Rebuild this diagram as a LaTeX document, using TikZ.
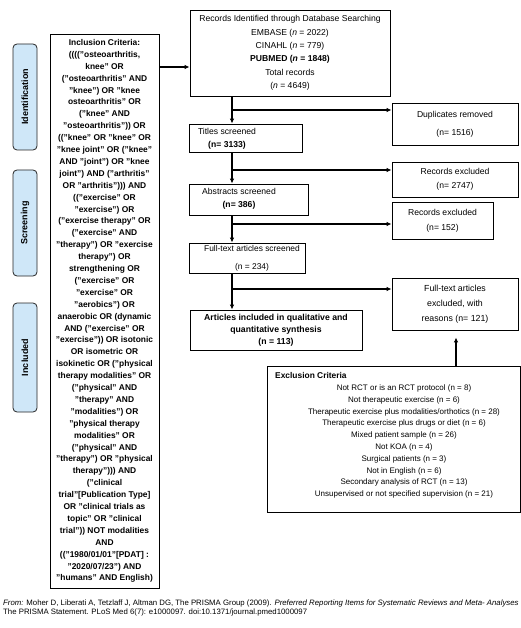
\documentclass[tikz,border=0pt]{standalone}
\usepackage{fontspec}
\setmainfont{Liberation Sans}
\usetikzlibrary{arrows.meta,calc}
\definecolor{sideblue}{RGB}{207,231,248}
\newcommand\fsz[2]{\fontsize{#1pt}{#2pt}\selectfont}
\begin{document}
\begin{tikzpicture}[x=1pt,y=-1pt,
  bx/.style={draw=black, line width=0.8pt, inner sep=0pt, align=center},
  side/.style={draw=black!85, line width=0.8pt, rounded corners=4pt, fill=sideblue, inner sep=0pt, rotate=90, font=\bfseries\fsz{9}{10}},
  txt/.style={inner sep=0pt, align=center},
  conn/.style={line width=1.5pt},
  arr/.style={conn, -{Latex[length=5pt,width=4.5pt]}},
]
\useasboundingbox (0,0) rectangle (521,628);
\fill[white] (0,0) rectangle (521,628);

% side labels
\node[side, minimum width=106pt, minimum height=24pt] (sid) at (25,97) {Identification};
\node[side, minimum width=106pt, minimum height=24pt] (sscr) at (25,223) {Screening};
\node[side, minimum width=109pt, minimum height=24pt] (sinc) at (25,357.5) {Included};

% inclusion criteria
\node[bx, minimum width=109pt, minimum height=554pt, font=\bfseries\fsz{8.4}{11.9}] (inc) at (104.5,311) {Inclusion Criteria:\\
(((("osteoarthritis,\\
knee" OR\\
("osteoarthritis" AND\\
"knee") OR "knee\\
osteoarthritis" OR\\
("knee" AND\\
"osteoarthritis")) OR\\
(("knee" OR "knee" OR\\
"knee joint" OR ("knee"\\
AND "joint") OR "knee\\
joint") AND ("arthritis"\\
OR "arthritis"))) AND\\
(("exercise" OR\\
"exercise") OR\\
("exercise therapy" OR\\
("exercise" AND\\
"therapy") OR "exercise\\
therapy") OR\\
strengthening OR\\
("exercise" OR\\
"exercise" OR\\
"aerobics") OR\\
anaerobic OR (dynamic\\
AND ("exercise" OR\\
"exercise")) OR isotonic\\
OR isometric OR\\
isokinetic OR ("physical\\
therapy modalities" OR\\
("physical" AND\\
"therapy" AND\\
"modalities") OR\\
"physical therapy\\
modalities" OR\\
("physical" AND\\
"therapy") OR "physical\\
therapy"))) AND\\
("clinical\\
trial"[Publication Type]\\
OR "clinical trials as\\
topic" OR "clinical\\
trial")) NOT modalities\\
AND\\
(("1980/01/01"[PDAT] :\\
"2020/07/23") AND\\
"humans" AND English)};

% flow boxes
\node[bx, minimum width=200pt, minimum height=86pt, font=\fsz{8.6}{13.4}] (rec) at (290,53) {Records Identified through Database Searching\\
EMBASE (\textit{n} = 2022)\\
CINAHL (\textit{n} = 779)\\
\textbf{PUBMED (\textit{n} = 1848)}\\
Total records\\
(\textit{n} = 4649)};

\node[bx, minimum width=126pt, minimum height=42pt, font=\fsz{8.6}{18}] (dup) at (455,124) {Duplicates removed\\(n= 1516)};

\node[bx, minimum width=113pt, minimum height=28pt] (tit) at (245.5,138) {};
\node[txt, font=\fsz{8.6}{13}] (titt) at (227,138.5) {Titles screened\\\textbf{(n= 3133)}};

\node[bx, minimum width=126pt, minimum height=35pt, font=\fsz{8.6}{14}] (rex1) at (455,179.5) {Records excluded\\(n= 2747)};

\node[bx, minimum width=119pt, minimum height=31pt] (abs) at (248.5,199.5) {};
\node[txt, font=\fsz{8.6}{13}] (abst) at (239,198.5) {Abstracts screened\\\textbf{(n= 386)}};

\node[bx, minimum width=101pt, minimum height=37pt, font=\fsz{8.6}{15}] (rex2) at (442.5,220.5) {Records excluded\\(n= 152)};

\node[bx, minimum width=116pt, minimum height=30pt] (ft) at (247,258) {};
\node[txt, font=\fsz{8.4}{18}] (ftt) at (252,258) {Full-text articles screened\\(n = 234)};

\node[bx, minimum width=126pt, minimum height=52pt, font=\fsz{8.8}{15}] (ftex) at (455,304) {Full-text articles\\excluded, with\\reasons (n= 121)};

\node[bx, minimum width=172pt, minimum height=40pt, font=\bfseries\fsz{8.7}{12}] (art) at (276,330) {Articles included in qualitative and\\quantitative synthesis\\(n = 113)};

% exclusion criteria
\node[bx, minimum width=253pt, minimum height=146pt] (exc) at (393.5,439) {};
\node[txt, anchor=west, font=\bfseries\fsz{8.4}{10}] (exct) at (275,375) {Exclusion Criteria};
\node[txt, font=\fsz{8}{11.8}] (excl) at (404,441.5) {Not RCT or is an RCT protocol (n = 8)\\
Not therapeutic exercise (n = 6)\\
Therapeutic exercise plus modalities/orthotics (n = 28)\\
Therapeutic exercise plus drugs or diet (n = 6)\\
Mixed patient sample (n = 26)\\
Not KOA (n = 4)\\
Surgical patients (n = 3)\\
Not in English (n = 6)\\
Secondary analysis of RCT (n = 13)\\
Unsupervised or not specified supervision (n = 21)};

% connectors
\coordinate (ci) at (160,67);
\draw[arr] (inc.east |- ci) -- (rec.west |- ci);

\coordinate (vx) at (232,0);
\coordinate (b1) at (232,110);
\coordinate (b2) at (232,170);
\coordinate (b3) at (232,224);
\coordinate (b4) at (232,289);
\draw[arr] (rec.south -| vx) -- (tit.north -| vx);
\draw[arr] (b1) -- (b1 -| dup.west);
\draw[arr] (tit.south -| vx) -- (abs.north -| vx);
\draw[arr] (b2) -- (b2 -| rex1.west);
\draw[arr] (abs.south -| vx) -- (ft.north -| vx);
\draw[arr] (b3) -- (b3 -| rex2.west);
\draw[arr] (ft.south -| vx) -- (art.north -| vx);
\draw[arr] (b4) -- (b4 -| ftex.west);
\coordinate (ve) at (456,0);
\draw[arr, shorten >=7pt] (exc.north -| ve) -- (ftex.south -| ve);

% footer
\node[txt, anchor=north west, align=left, font=\fsz{7.8}{8.3}] (foot) at (3,600) {\textit{From:} Moher D, Liberati A, Tetzlaff J, Altman DG, The PRISMA Group (2009). \textit{Preferred Reporting Items for Systematic Reviews and Meta- Analyses}\\
The PRISMA Statement. PLoS Med 6(7): e1000097. doi:10.1371/journal.pmed1000097};
\end{tikzpicture}
\end{document}
